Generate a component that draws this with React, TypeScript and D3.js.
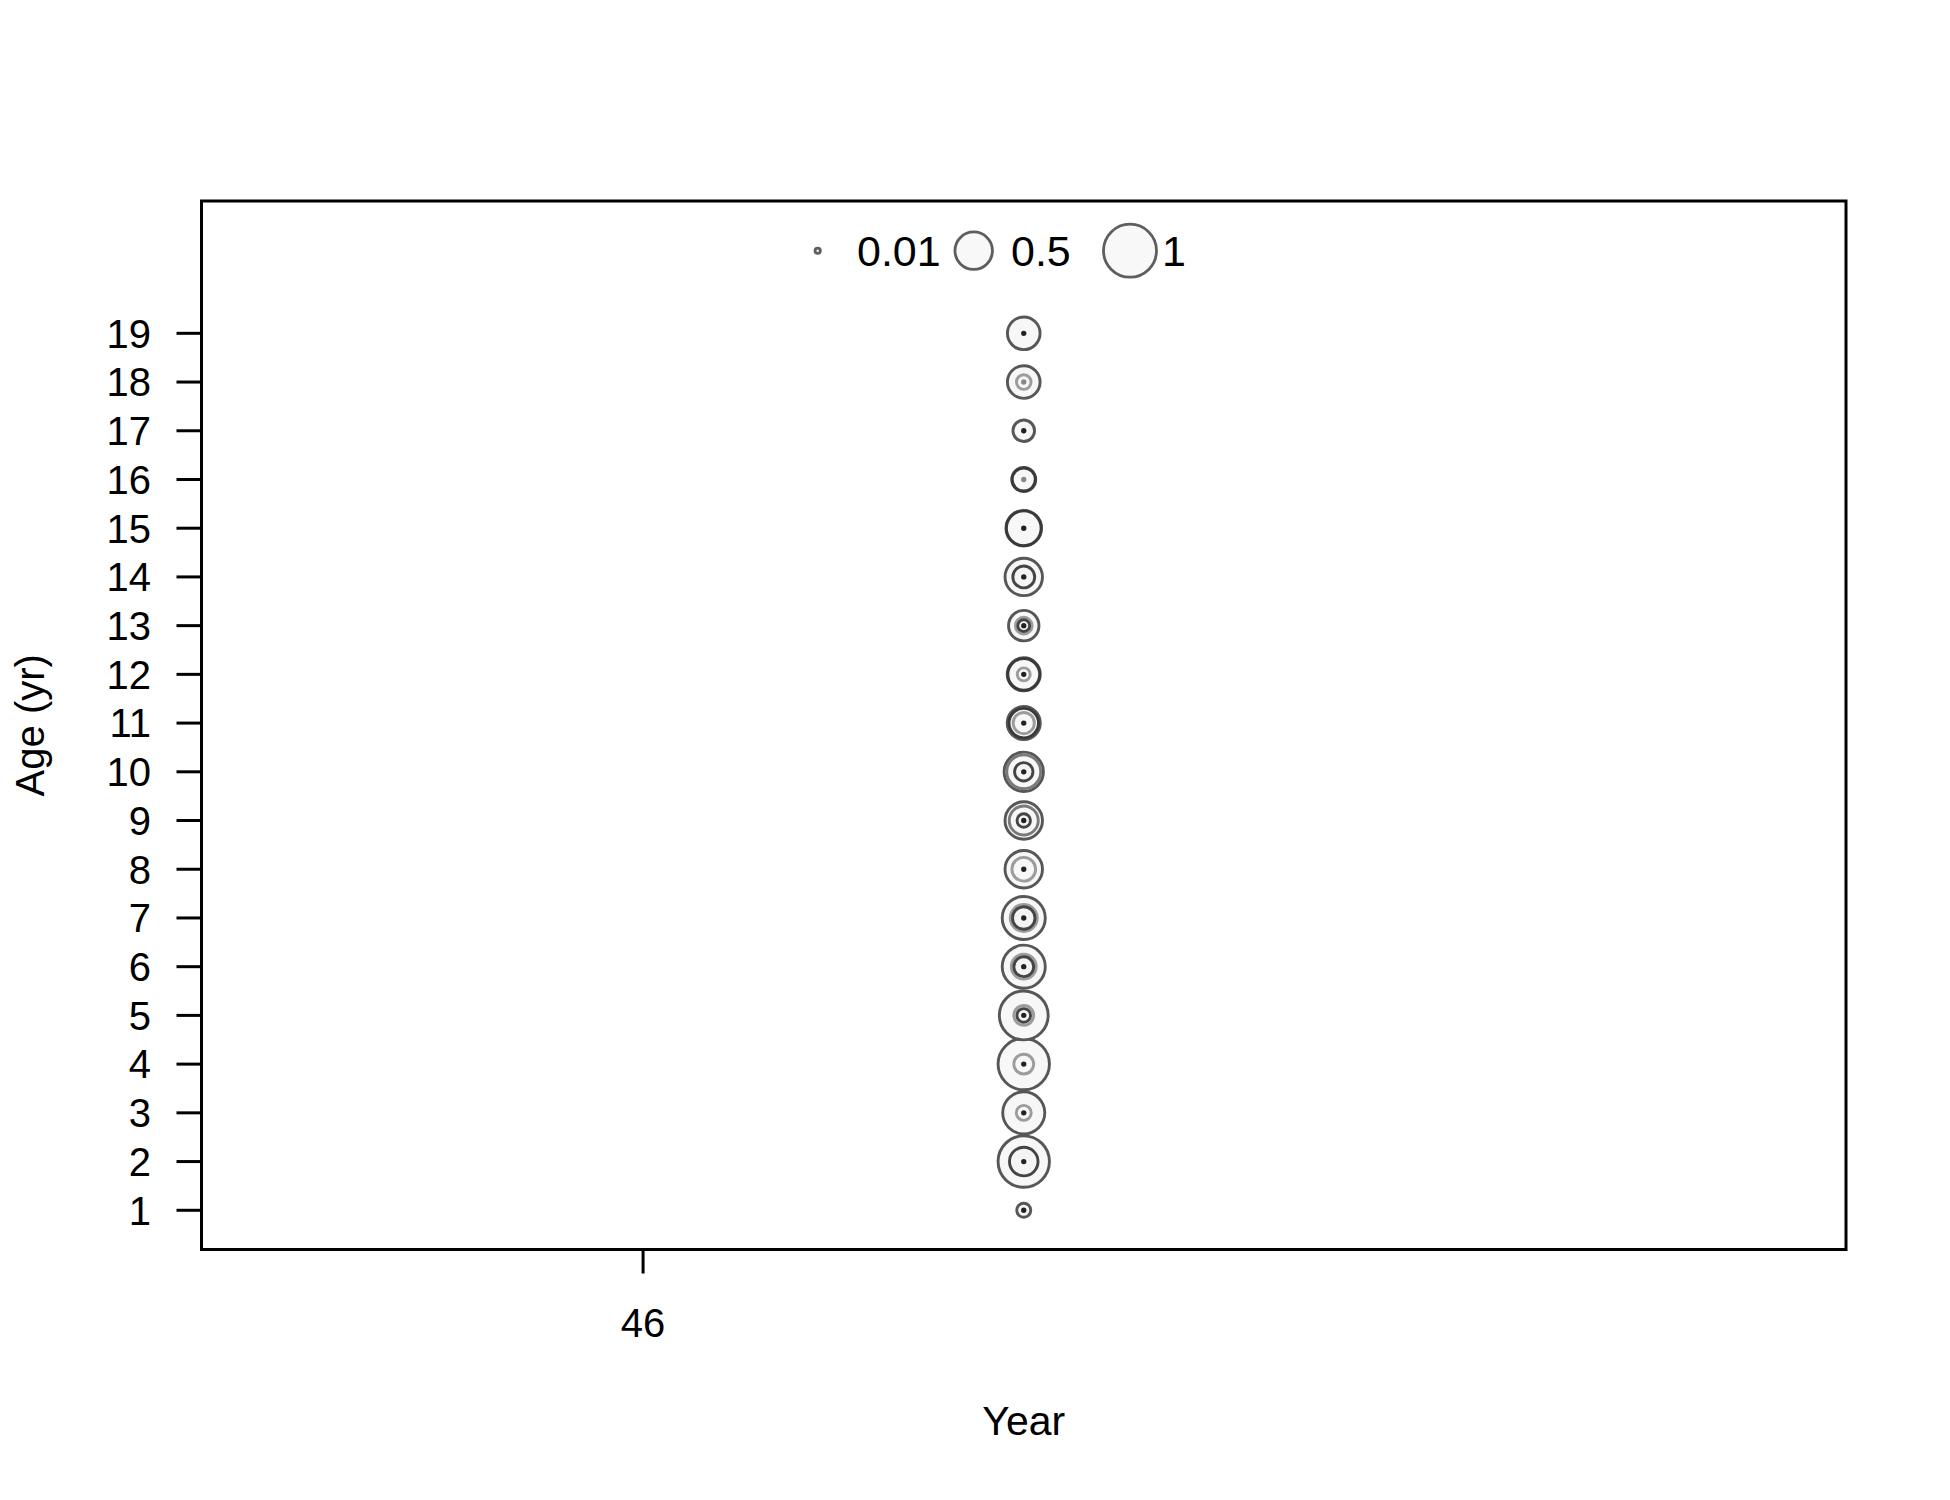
import React from "react";
import * as d3 from "d3";

const ages = [1, 2, 3, 4, 5, 6, 7, 8, 9, 10, 11, 12, 13, 14, 15, 16, 17, 18, 19];
const yearValue = 46.5;
const xTicks = [46];
const legendValues = [0.01, 0.5, 1];
const legendLabels = ["0.01", "0.5", "1"];

// proportions read per age (several overlapping series at same year)
const outerRing = [0.07, 0.94, 0.63, 0.94, 0.85, 0.66, 0.66, 0.5, 0.5, 0.55, 0.39, 0.39, 0.33, 0.5, 0.45, 0.205, 0.166, 0.38, 0.38];
const midGrayRing = [null, null, null, null, null, null, null, null, 0.3, 0.41, null, null, null, null, null, null, null, null, null];
const midDarkRing = [null, null, null, null, null, null, null, null, null, null, 0.31, 0.36, null, null, 0.43, 0.19, null, null, null];
const lightRing = [null, null, 0.08, 0.14, 0.14, 0.22, 0.26, 0.2, null, null, 0.16, 0.06, 0.1, 0.07, null, null, null, 0.076, null];
const darkRing = [null, 0.29, null, null, 0.066, 0.14, 0.18, null, 0.064, 0.12, null, null, 0.05, 0.17, null, null, null, null, null];
const dotValue = [0.004, 0.004, 0.004, 0.004, 0.004, 0.004, 0.004, 0.004, 0.004, 0.004, 0.004, 0.004, 0.004, 0.004, 0.004, 0.004, 0.004, 0.004, 0.004];
const dotLight = [false, false, false, false, false, false, false, false, false, false, false, false, false, false, false, true, false, true, false];

const W = 1950, H = 1500;
const L = 201.5, R = 1846, T = 201, B = 1249.5;

export default function App() {
  const x = d3.scaleLinear().domain([45.42, 47.58]).range([L, R]);
  const y = d3.scaleLinear().domain([0.195, 21.716]).range([B, T]);
  const r = d3.scaleSqrt().domain([0, 1]).range([0, 26.5]);
  const font = "'Liberation Sans', Arial, sans-serif";

  const series = [
    { vals: outerRing, stroke: "#575757", fill: "#f7f7f7" },
    { vals: midGrayRing, stroke: "#7a7a7a", fill: "#f7f7f7" },
    { vals: midDarkRing, stroke: "#3a3a3a", fill: "#f7f7f7" },
    { vals: lightRing, stroke: "#9c9c9c", fill: "#f7f7f7" },
    { vals: darkRing, stroke: "#454545", fill: "#f4f4f4" },
  ];

  const legendX = [817.7, 973.7, 1130];
  const legendTextX = [857, 1011, 1162];
  const legendY = 250.7;

  return (
    <svg width={W} height={H} style={{ position: "absolute", left: 0, top: 0, background: "#fff" }}>
      <rect x={0} y={0} width={W} height={H} fill="#fff" />
      {/* bubbles */}
      {series.map((s, si) =>
        ages.map((a, i) => {
          const v = s.vals[i];
          if (v == null) return null;
          return (
            <circle key={`s${si}-${a}`} cx={x(yearValue)} cy={y(a)} r={r(v)} fill={s.fill} stroke={s.stroke} strokeWidth={2.9} />
          );
        })
      )}
      {ages.map((a, i) => (
        <circle key={`d${a}`} cx={x(yearValue)} cy={y(a)} r={r(dotValue[i])} fill={dotLight[i] ? "#888" : "#222"} stroke={dotLight[i] ? "#888" : "#222"} strokeWidth={2} />
      ))}
      {/* legend */}
      {legendValues.map((v, i) => (
        <g key={`lg${i}`}>
          <circle cx={legendX[i]} cy={legendY} r={r(v)} fill="#f8f8f8" stroke="#5e5e5e" strokeWidth={2.8} />
          <text x={legendTextX[i]} y={266} fontFamily={font} fontSize={43} fill="#000">{legendLabels[i]}</text>
        </g>
      ))}
      {/* box */}
      <rect x={L} y={T} width={R - L} height={B - T} fill="none" stroke="#000" strokeWidth={3} />
      {/* y axis */}
      {ages.map((a) => (
        <g key={`yt${a}`}>
          <line x1={L - 25} x2={L} y1={y(a)} y2={y(a)} stroke="#000" strokeWidth={3} />
          <text x={151} y={y(a) + 14.3} textAnchor="end" fontFamily={font} fontSize={40} fill="#000">{a}</text>
        </g>
      ))}
      {/* x axis */}
      {xTicks.map((t) => (
        <g key={`xt${t}`}>
          <line x1={x(t)} x2={x(t)} y1={B} y2={B + 24} stroke="#000" strokeWidth={3} />
          <text x={x(t)} y={1336.7} textAnchor="middle" fontFamily={font} fontSize={40} fill="#000">{t}</text>
        </g>
      ))}
      <text x={(L + R) / 2} y={1435} textAnchor="middle" fontFamily={font} fontSize={41} fill="#000">Year</text>
      <text transform={`translate(44, ${(T + B) / 2}) rotate(-90)`} textAnchor="middle" fontFamily={font} fontSize={40} fill="#000">Age (yr)</text>
    </svg>
  );
}
